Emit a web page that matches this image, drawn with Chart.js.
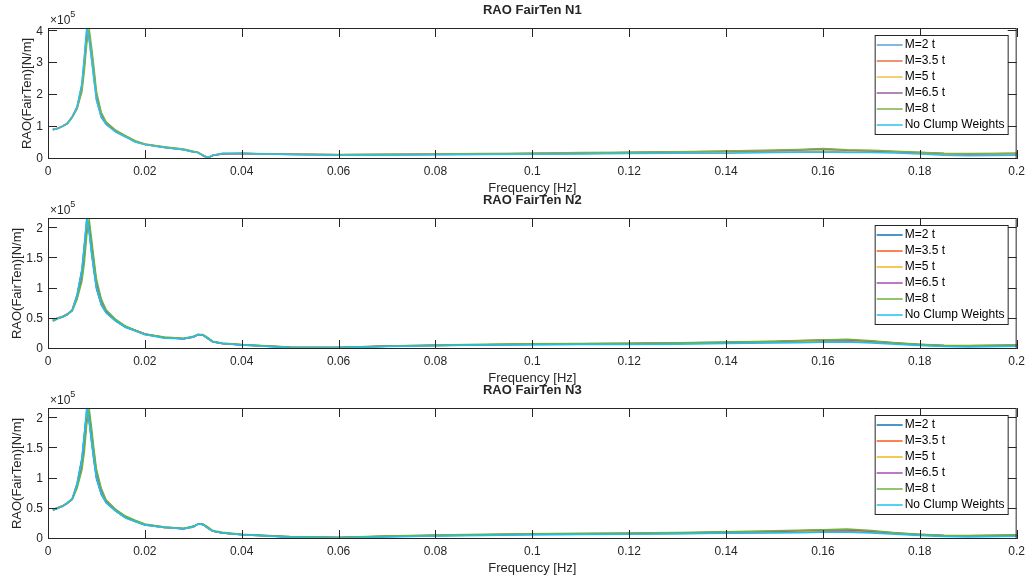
<!DOCTYPE html>
<html>
<head>
<meta charset="utf-8">
<title>RAO FairTen</title>
<script src="https://cdn.jsdelivr.net/npm/chart.js@4.4.0/dist/chart.umd.min.js"></script>
<style>
  body { margin: 0; background: #fff; }
  #page { position: relative; width: 1030px; height: 581px; overflow: hidden; }
  .plot { position: absolute; left: 0; width: 1030px; height: 200px; }
</style>
</head>
<body>
<div id="page">
  <canvas id="chart1" class="plot" width="1030" height="200" style="top:0px"></canvas>
  <canvas id="chart2" class="plot" width="1030" height="200" style="top:190px"></canvas>
  <canvas id="chart3" class="plot" width="1030" height="200" style="top:380px"></canvas>
</div>
<script>
'use strict'

// frequency [Hz], shared by all three plots
var freq = [0.001, 0.002, 0.003, 0.004, 0.005, 0.006, 0.007, 0.0075, 0.008, 0.0085, 0.009, 0.0095,
  0.01, 0.011, 0.012, 0.014, 0.016, 0.018, 0.02, 0.024, 0.028, 0.03, 0.031, 0.032, 0.033, 0.034,
  0.036, 0.04, 0.05, 0.06, 0.07, 0.08, 0.09, 0.1, 0.11, 0.12, 0.13, 0.14, 0.15, 0.155, 0.16, 0.165,
  0.17, 0.175, 0.18, 0.185, 0.19, 0.2];

var seriesNames = ["M=2 t", "M=3.5 t", "M=5 t", "M=6.5 t", "M=8 t", "No Clump Weights"];
var xTicks = [0, 0.02, 0.04, 0.06, 0.08, 0.1, 0.12, 0.14, 0.16, 0.18, 0.2];
var yTicksN1 = [0, 1, 2, 3, 4];
var yTicksN23 = [0, 0.5, 1, 1.5, 2];

// RAO values, in units of 1e5 N/m
var n1_m2   = [0.93,0.96,1.03,1.12,1.33,1.64,2.33,3.15,4.02,3.72,3.1,2.45,1.84,1.31,1.09,0.85,0.7,0.54,0.45,0.36,0.29,0.22,0.2,0.11,0.03,0.11,0.17,0.17,0.14,0.13,0.13,0.14,0.15,0.16,0.17,0.19,0.2,0.21,0.23,0.24,0.26,0.23,0.22,0.21,0.18,0.15,0.14,0.15];
var n1_m35  = [0.92,0.96,1.03,1.12,1.32,1.6,2.2,2.95,3.8,3.85,3.3,2.65,1.98,1.38,1.12,0.87,0.71,0.55,0.46,0.37,0.3,0.23,0.2,0.11,0.04,0.11,0.16,0.17,0.15,0.13,0.14,0.15,0.16,0.17,0.18,0.2,0.22,0.23,0.25,0.27,0.3,0.26,0.24,0.22,0.19,0.16,0.16,0.17];
var n1_m5   = [0.93,0.96,1.03,1.12,1.33,1.62,2.28,3.05,3.9,3.8,3.22,2.58,1.92,1.35,1.1,0.86,0.7,0.54,0.45,0.36,0.29,0.22,0.2,0.11,0.03,0.11,0.17,0.17,0.14,0.13,0.14,0.14,0.16,0.17,0.18,0.19,0.21,0.22,0.24,0.26,0.28,0.25,0.23,0.21,0.19,0.16,0.15,0.16];
var n1_m65  = [0.92,0.95,1.02,1.11,1.31,1.6,2.22,2.95,3.85,3.92,3.35,2.7,2.0,1.4,1.13,0.88,0.72,0.56,0.46,0.37,0.3,0.23,0.2,0.11,0.04,0.11,0.16,0.17,0.15,0.13,0.14,0.15,0.16,0.17,0.18,0.2,0.22,0.24,0.26,0.28,0.31,0.27,0.25,0.23,0.2,0.17,0.16,0.17];
var n1_m8   = [0.91,0.95,1.02,1.1,1.3,1.57,2.1,2.75,3.6,4.08,3.5,2.85,2.12,1.46,1.16,0.9,0.73,0.57,0.47,0.38,0.31,0.24,0.21,0.12,0.05,0.12,0.17,0.18,0.15,0.14,0.15,0.16,0.17,0.18,0.2,0.21,0.23,0.25,0.28,0.3,0.33,0.29,0.27,0.24,0.21,0.18,0.17,0.18];
var n1_none = [0.92,0.95,1.02,1.11,1.32,1.62,2.37,3.2,4.12,3.75,3.15,2.5,1.86,1.3,1.08,0.84,0.69,0.53,0.45,0.36,0.29,0.22,0.2,0.12,0.03,0.12,0.17,0.17,0.14,0.12,0.12,0.13,0.14,0.15,0.16,0.17,0.18,0.18,0.2,0.21,0.22,0.2,0.2,0.19,0.16,0.12,0.1,0.12];

var n2_m2   = [0.48,0.51,0.54,0.58,0.65,0.9,1.32,1.72,2.14,1.94,1.58,1.28,1.0,0.73,0.6,0.46,0.36,0.3,0.24,0.19,0.17,0.2,0.24,0.23,0.17,0.12,0.09,0.065,0.025,0.02,0.045,0.06,0.07,0.075,0.08,0.085,0.09,0.1,0.11,0.12,0.125,0.13,0.115,0.09,0.065,0.05,0.045,0.055];
var n2_m35  = [0.47,0.51,0.54,0.58,0.64,0.86,1.22,1.58,2.0,2.02,1.7,1.38,1.08,0.78,0.62,0.47,0.37,0.31,0.25,0.19,0.17,0.2,0.24,0.23,0.18,0.12,0.09,0.07,0.03,0.025,0.045,0.06,0.07,0.08,0.085,0.09,0.095,0.105,0.12,0.13,0.14,0.14,0.125,0.095,0.07,0.055,0.05,0.06];
var n2_m5   = [0.48,0.52,0.54,0.58,0.65,0.87,1.26,1.64,2.06,1.98,1.65,1.34,1.05,0.76,0.61,0.47,0.37,0.3,0.24,0.19,0.17,0.2,0.24,0.23,0.17,0.12,0.09,0.068,0.028,0.022,0.045,0.06,0.07,0.078,0.085,0.088,0.095,0.1,0.115,0.125,0.135,0.14,0.12,0.09,0.07,0.05,0.048,0.058];
var n2_m65  = [0.47,0.51,0.53,0.57,0.64,0.85,1.2,1.54,1.98,2.06,1.74,1.42,1.1,0.8,0.63,0.48,0.37,0.31,0.25,0.19,0.17,0.2,0.24,0.23,0.18,0.12,0.09,0.07,0.03,0.025,0.048,0.062,0.072,0.08,0.088,0.09,0.1,0.11,0.125,0.135,0.15,0.15,0.13,0.1,0.075,0.058,0.052,0.062];
var n2_m8   = [0.46,0.5,0.53,0.57,0.63,0.82,1.12,1.42,1.88,2.15,1.82,1.48,1.16,0.83,0.65,0.49,0.38,0.31,0.25,0.2,0.18,0.21,0.24,0.24,0.19,0.13,0.1,0.075,0.035,0.03,0.05,0.065,0.078,0.085,0.092,0.095,0.105,0.115,0.13,0.14,0.15,0.16,0.135,0.105,0.08,0.062,0.06,0.07];
var n2_none = [0.47,0.51,0.53,0.57,0.64,0.88,1.3,1.7,2.17,1.95,1.6,1.3,1.02,0.74,0.6,0.46,0.36,0.3,0.24,0.18,0.17,0.2,0.24,0.23,0.17,0.12,0.09,0.066,0.02,0.02,0.04,0.055,0.065,0.07,0.075,0.075,0.08,0.09,0.1,0.105,0.11,0.115,0.1,0.08,0.06,0.04,0.035,0.045];

var n3_m2   = [0.49,0.52,0.55,0.6,0.67,0.92,1.34,1.74,2.12,1.94,1.6,1.28,1.0,0.74,0.6,0.46,0.35,0.29,0.23,0.19,0.17,0.2,0.25,0.24,0.18,0.13,0.1,0.07,0.032,0.02,0.04,0.055,0.065,0.075,0.08,0.085,0.09,0.1,0.11,0.115,0.125,0.125,0.11,0.09,0.065,0.05,0.045,0.055];
var n3_m35  = [0.48,0.52,0.55,0.6,0.66,0.88,1.24,1.6,2.02,2.03,1.72,1.38,1.08,0.79,0.62,0.47,0.36,0.3,0.24,0.19,0.17,0.21,0.25,0.24,0.19,0.13,0.1,0.075,0.035,0.025,0.045,0.06,0.07,0.08,0.085,0.09,0.1,0.11,0.12,0.13,0.14,0.14,0.125,0.095,0.07,0.055,0.05,0.06];
var n3_m5   = [0.49,0.52,0.55,0.6,0.67,0.89,1.28,1.66,2.07,1.99,1.67,1.34,1.05,0.77,0.61,0.47,0.36,0.29,0.24,0.19,0.17,0.2,0.25,0.24,0.18,0.13,0.1,0.072,0.033,0.022,0.042,0.058,0.068,0.078,0.083,0.088,0.095,0.105,0.115,0.125,0.135,0.14,0.12,0.09,0.068,0.052,0.048,0.058];
var n3_m65  = [0.48,0.51,0.54,0.59,0.66,0.87,1.22,1.56,1.99,2.07,1.76,1.42,1.1,0.81,0.63,0.48,0.37,0.3,0.24,0.2,0.17,0.21,0.25,0.24,0.19,0.13,0.1,0.075,0.036,0.026,0.047,0.062,0.072,0.082,0.088,0.092,0.1,0.115,0.125,0.135,0.15,0.15,0.13,0.1,0.075,0.058,0.052,0.062];
var n3_m8   = [0.47,0.51,0.54,0.59,0.65,0.84,1.14,1.44,1.9,2.16,1.84,1.48,1.16,0.84,0.65,0.49,0.38,0.31,0.25,0.2,0.18,0.21,0.25,0.25,0.2,0.14,0.11,0.08,0.04,0.03,0.05,0.066,0.078,0.088,0.094,0.098,0.108,0.12,0.135,0.145,0.155,0.165,0.14,0.105,0.08,0.062,0.06,0.07];
var n3_none = [0.48,0.51,0.54,0.6,0.66,0.9,1.32,1.72,2.18,1.96,1.62,1.3,1.02,0.75,0.6,0.46,0.35,0.29,0.23,0.19,0.17,0.2,0.25,0.24,0.18,0.13,0.1,0.07,0.03,0.015,0.035,0.05,0.06,0.07,0.075,0.08,0.085,0.095,0.1,0.105,0.11,0.11,0.1,0.08,0.06,0.04,0.035,0.045];

var colorsN1 = ["#5C9FD6", "#E8703F", "#F1BF4A", "#9A5AA6", "#7CB342", "#2CC0EE"];
var colorsN23 = ["#0F72BD", "#FA5A1E", "#F7B51A", "#A64CB4", "#6DB33A", "#1EC0F2"];

var FONT = "'Liberation Sans', Arial, Helvetica, sans-serif";
var INK = "#262626";

// matlab-ish box, inward ticks, title, x10^5 and legend
var matlabAxes = {
  id: 'matlabAxes',
  afterDraw: function(chart) {
    var ctx = chart.ctx;
    var a = chart.chartArea;
    var xs = chart.scales.x;
    var ys = chart.scales.y;
    var o = chart.options.plugins.matlabAxes;
    var tl = 9;
    ctx.save();
    ctx.strokeStyle = INK;
    ctx.lineWidth = 1;
    ctx.strokeRect(a.left + 0.5, a.top + 0.5, a.right - a.left - 1, a.bottom - a.top - 1);
    ctx.beginPath();
    o.xTicks.forEach(function(v) {
      var px = Math.round(xs.getPixelForValue(v)) + 0.5;
      ctx.moveTo(px, a.bottom); ctx.lineTo(px, a.bottom - tl);
      ctx.moveTo(px, a.top); ctx.lineTo(px, a.top + tl);
    });
    o.yTicks.forEach(function(v) {
      var py = Math.round(ys.getPixelForValue(v)) - 0.5;
      ctx.moveTo(a.left, py); ctx.lineTo(a.left + tl, py);
      ctx.moveTo(a.right, py); ctx.lineTo(a.right - tl, py);
    });
    ctx.stroke();

    // title
    ctx.fillStyle = INK;
    ctx.textAlign = 'center';
    ctx.textBaseline = 'middle';
    ctx.font = "bold 13px " + FONT;
    ctx.fillText(o.title, (a.left + a.right) / 2, 10);

    // exponent
    ctx.textAlign = 'left';
    ctx.font = "12px " + FONT;
    ctx.fillText("\u00d710", a.left + 2, 21);
    var w = ctx.measureText("\u00d710").width;
    ctx.font = "9px " + FONT;
    ctx.fillText("5", a.left + 2 + w, 15);

    // legend
    var lx = a.right - 9 - 133;
    var ly = a.top + 7;
    ctx.fillStyle = '#fff';
    ctx.fillRect(lx, ly, 133, 99);
    ctx.strokeStyle = INK;
    ctx.strokeRect(lx + 0.5, ly + 0.5, 133, 99);
    ctx.font = "12px " + FONT;
    chart.data.datasets.forEach(function(ds, i) {
      var y = ly + 10 + i * 16;
      ctx.strokeStyle = ds.borderColor;
      ctx.lineWidth = 1.5;
      ctx.beginPath();
      ctx.moveTo(lx + 2, y); ctx.lineTo(lx + 28, y);
      ctx.stroke();
      ctx.fillStyle = '#000';
      ctx.fillText(ds.label, lx + 30, y);
    });
    ctx.restore();
  }
};

function makeChart(id, title, series, colors, yMax, yTicks, labelPad) {
  var el = document.getElementById(id).getContext('2d');
  var datasets = series.map(function(vals, i) {
    return {
      label: seriesNames[i],
      data: vals.map(function(v, k) { return { x: freq[k], y: v }; }),
      borderColor: colors[i],
      backgroundColor: colors[i],
      borderWidth: 1.5,
      pointRadius: 0,
      tension: 0,
      order: series.length - 1 - i
    };
  });
  return new Chart(el, {
    type: 'line',
    data: { datasets: datasets },
    options: {
      responsive: false,
      animation: false,
      devicePixelRatio: 1,
      layout: { padding: { top: 28, right: 13, left: 0, bottom: 0 } },
      plugins: {
        legend: { display: false },
        tooltip: { enabled: false },
        title: { display: false },
        matlabAxes: { title: title, xTicks: xTicks, yTicks: yTicks }
      },
      scales: {
        x: {
          type: 'linear',
          min: 0,
          max: 0.2,
          afterFit: function(s) { s.height = 41; },
          afterBuildTicks: function(s) { s.ticks = xTicks.map(function(v) { return { value: v }; }); },
          grid: { display: false, drawTicks: false, tickLength: 0 },
          border: { display: false },
          ticks: {
            padding: 5,
            color: INK,
            maxRotation: 0,
            autoSkip: false,
            font: { family: FONT, size: 12 },
            callback: function(v) { return String(Number(v.toFixed(2))); }
          },
          title: {
            display: true,
            text: 'Frequency [Hz]',
            color: INK,
            font: { family: FONT, size: 13 },
            padding: { top: 0, bottom: 4 }
          }
        },
        y: {
          min: 0,
          max: yMax,
          afterFit: function(s) { s.width = 48; },
          afterBuildTicks: function(s) { s.ticks = yTicks.map(function(v) { return { value: v }; }); },
          grid: { display: false, drawTicks: false, tickLength: 0 },
          border: { display: false },
          ticks: {
            padding: 5,
            color: INK,
            autoSkip: false,
            font: { family: FONT, size: 12 },
            callback: function(v) { return String(v); }
          },
          title: {
            display: true,
            text: 'RAO(FairTen)[N/m]',
            color: INK,
            font: { family: FONT, size: 13 },
            padding: { top: labelPad, bottom: 0 }
          }
        }
      }
    },
    plugins: [matlabAxes]
  });
}

var chart1 = makeChart('chart1', 'RAO FairTen N1', [n1_m2, n1_m35, n1_m5, n1_m65, n1_m8, n1_none], colorsN1, 4.1, yTicksN1, 20);
var chart2 = makeChart('chart2', 'RAO FairTen N2', [n2_m2, n2_m35, n2_m5, n2_m65, n2_m8, n2_none], colorsN23, 2.17, yTicksN23, 10);
var chart3 = makeChart('chart3', 'RAO FairTen N3', [n3_m2, n3_m35, n3_m5, n3_m65, n3_m8, n3_none], colorsN23, 2.17, yTicksN23, 10);
</script>
</body>
</html>
